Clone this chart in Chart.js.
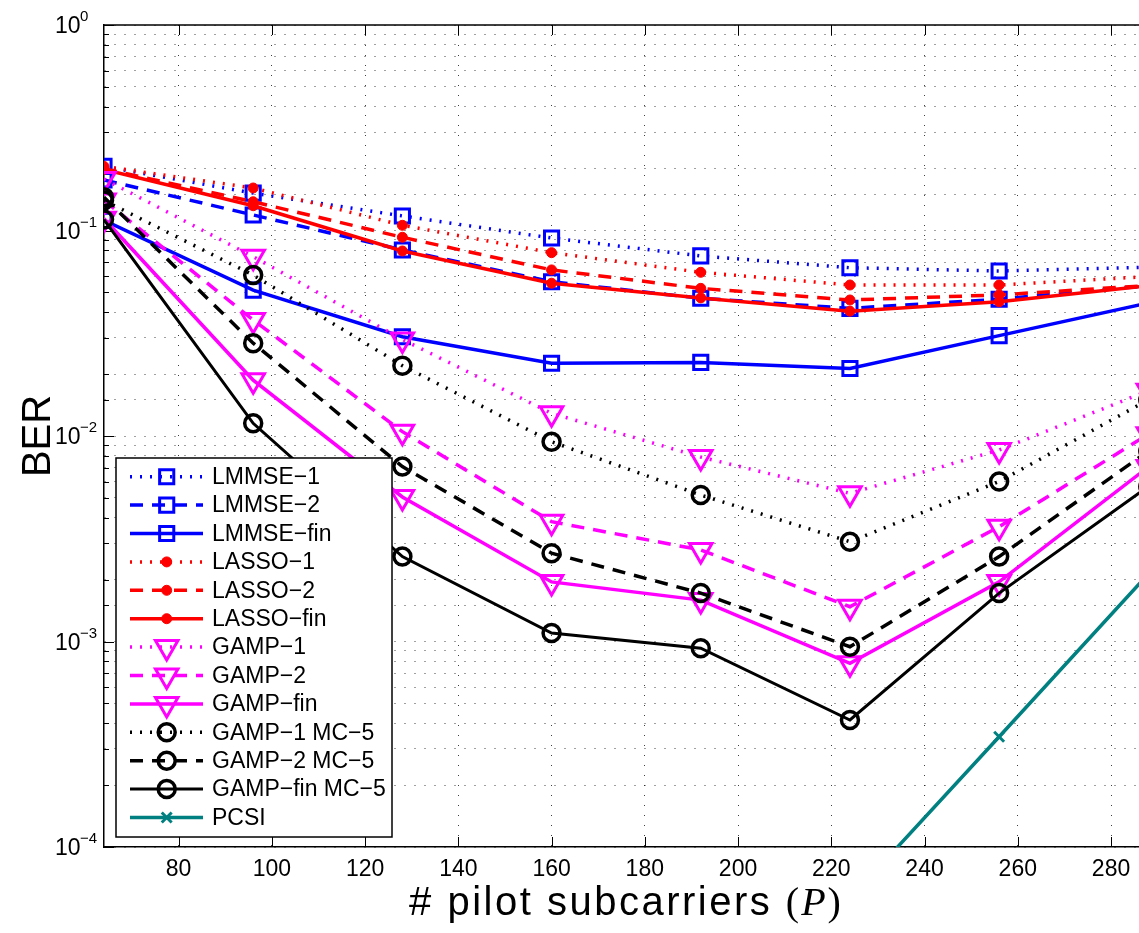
<!DOCTYPE html>
<html>
<head>
<meta charset="utf-8">
<script src="https://cdn.jsdelivr.net/npm/chart.js@4.4.1/dist/chart.umd.min.js"></script>
<style>
  html, body { margin: 0; background: #fff; overflow: hidden; }
  #wrap { width: 1139px; height: 933px; position: relative; }
  canvas { display: block; }
</style>
</head>
<body>
<div id="wrap"><canvas id="c"></canvas></div>
<script>
// BER vs number of pilot subcarriers
const pilots = [64, 96, 128, 160, 192, 224, 256, 288];

const lmmse1   = [0.205, 0.152, 0.1177, 0.0919, 0.0752, 0.0659, 0.0635, 0.0663];
const lmmse2   = [0.176, 0.119, 0.0804, 0.0563, 0.0468, 0.0418, 0.0463, 0.0539];
const lmmseFin = [0.112, 0.0513, 0.0304, 0.0226, 0.0228, 0.0213, 0.0308, 0.0444];
const lasso1   = [0.205, 0.161, 0.106, 0.078, 0.0626, 0.0543, 0.0543, 0.0597];
const lasso2   = [0.200, 0.138, 0.0927, 0.0643, 0.0523, 0.0459, 0.0486, 0.054];
const lassoFin = [0.198, 0.132, 0.0795, 0.0554, 0.047, 0.0405, 0.045, 0.0539];
const gamp1    = [0.178, 0.0746, 0.0295, 0.0129, 0.0079, 0.00526, 0.00855, 0.0166];
const gamp2    = [0.140, 0.0367, 0.0105, 0.00383, 0.00279, 0.001476, 0.00362, 0.0102];
const gampFin  = [0.114, 0.0187, 0.00505, 0.00195, 0.00159, 0.000783, 0.00195, 0.00707];
const gamp1Mc  = [0.140, 0.0607, 0.022, 0.00938, 0.00516, 0.00306, 0.0060, 0.015];
const gamp2Mc  = [0.145, 0.0283, 0.0071, 0.00269, 0.00172, 0.000943, 0.00259, 0.00845];
const gampFinMc= [0.113, 0.01153, 0.00259, 0.0011, 0.000927, 0.000415, 0.00172, 0.00568];
const pcsi     = [null, null, null, null, null, 5.6e-5, 0.000344, 0.00213];

const xTicks = [80, 100, 120, 140, 160, 180, 200, 220, 240, 260, 280];
const yDecades = [1e-4, 1e-3, 1e-2, 1e-1, 1];
const yExponents = ["\u22124", "\u22123", "\u22122", "\u22121", "0"];

const FONT = '"Liberation Sans", Arial, sans-serif';
const DOT = [2, 8], DASH = [13, 9];

// one line series, MATLAB style
function series(label, data, color, dash, marker, extra){
  const pts = pilots.map((p, i) => ({x: p, y: data[i]}));
  return Object.assign({
    label, data: pts,
    borderColor: color, borderWidth: 3.5, borderDash: dash,
    pointStyle: marker.style, pointRadius: marker.r, pointRotation: marker.rot || 0,
    pointBorderColor: color, pointBorderWidth: marker.bw,
    pointBackgroundColor: marker.fill ? color : 'rgba(0,0,0,0)',
    spanGaps: false
  }, extra || {});
}
const SQ  = {style: 'rect', r: 10, bw: 3};
const DOTM= {style: 'circle', r: 5, bw: 1, fill: true};
const TRI = {style: 'triangle', r: 13, rot: 180, bw: 3};
const CIR = {style: 'circle', r: 8.5, bw: 3.5};
const XM  = {style: 'crossRot', r: 7, bw: 3};

const datasets = [
  series('LMMSE\u22121', lmmse1, '#0000ff', DOT, SQ),
  series('LMMSE\u22122', lmmse2, '#0000ff', DASH, SQ),
  series('LMMSE\u2212fin', lmmseFin, '#0000ff', [], SQ),
  series('LASSO\u22121', lasso1, '#ff0000', DOT, DOTM),
  series('LASSO\u22122', lasso2, '#ff0000', DASH, DOTM),
  series('LASSO\u2212fin', lassoFin, '#ff0000', [], DOTM),
  series('GAMP\u22121', gamp1, '#ff00ff', DOT, TRI),
  series('GAMP\u22122', gamp2, '#ff00ff', DASH, TRI),
  series('GAMP\u2212fin', gampFin, '#ff00ff', [], TRI),
  series('GAMP\u22121 MC\u22125', gamp1Mc, '#000000', DOT, CIR),
  series('GAMP\u22122 MC\u22125', gamp2Mc, '#000000', DASH, CIR),
  series('GAMP\u2212fin MC\u22125', gampFinMc, '#000000', [], CIR, {borderWidth: 3}),
  series('PCSI', pcsi, '#008080', [], XM, {clip: 0})
];
// MATLAB draws later curves on top
datasets.forEach((d, i) => { d.order = -i; });

function isDecade(v){ const l = Math.log10(v); return Math.abs(l - Math.round(l)) < 1e-9; }

// inward ticks, top frame, y labels, axis titles and legend box
const matlabAxes = {
  id: 'matlabAxes',
  beforeDatasetsDraw(chart){
    const {ctx, chartArea: a, scales: {x, y}} = chart;
    ctx.save();
    ctx.strokeStyle = '#000'; ctx.lineWidth = 1; ctx.setLineDash([]);
    ctx.beginPath();
    x.ticks.forEach(t => {
      const px = Math.round(x.getPixelForValue(t.value)) + 0.5;
      ctx.moveTo(px, a.bottom); ctx.lineTo(px, a.bottom - 10);
      ctx.moveTo(px, a.top); ctx.lineTo(px, a.top + 10);
    });
    y.ticks.forEach(t => {
      const py = Math.round(y.getPixelForValue(t.value)) + 0.5;
      const len = isDecade(t.value) ? 10 : 5;
      ctx.moveTo(a.left, py); ctx.lineTo(a.left + len, py);
    });
    ctx.stroke();
    ctx.lineWidth = 1.5;
    ctx.beginPath(); ctx.moveTo(a.left, a.top); ctx.lineTo(a.right, a.top); ctx.stroke();
    ctx.restore();
  },
  afterDraw(chart){
    const {ctx, chartArea: a, scales: {y}} = chart;
    ctx.save();
    ctx.fillStyle = '#000';
    // y tick labels 10^n
    yDecades.forEach((v, i) => {
      const py = y.getPixelForValue(v);
      ctx.font = `23px ${FONT}`; ctx.textAlign = 'left'; ctx.textBaseline = 'alphabetic';
      ctx.fillText('10', 55, py + 8);
      ctx.font = `15px ${FONT}`;
      ctx.fillText(yExponents[i], 80, py - 4);
    });
    // axis titles
    ctx.font = `40px ${FONT}`;
    ctx.save();
    ctx.translate(50, (a.top + a.bottom) / 2);
    ctx.rotate(-Math.PI / 2);
    ctx.textAlign = 'center'; ctx.textBaseline = 'alphabetic';
    ctx.fillText('BER', 0, 0);
    ctx.restore();
    const p1 = '# pilot subcarriers ';
    const serif = '"Liberation Serif", "Times New Roman", serif';
    ctx.letterSpacing = '2.5px';
    ctx.font = `40px ${FONT}`; const w1 = ctx.measureText(p1).width;
    ctx.letterSpacing = '0px';
    ctx.font = `40px ${serif}`; const wp = ctx.measureText('(').width, wc = ctx.measureText(')').width;
    ctx.font = `italic 40px ${serif}`; const wP = ctx.measureText('P').width;
    let tx = 625 - (w1 + wp + wP + wc + 4) / 2; const ty = 915;
    ctx.textAlign = 'left';
    ctx.letterSpacing = '2.5px';
    ctx.font = `40px ${FONT}`; ctx.fillText(p1, tx, ty); tx += w1;
    ctx.letterSpacing = '0px';
    ctx.font = `40px ${serif}`; ctx.fillText('(', tx, ty); tx += wp + 2;
    ctx.font = `italic 40px ${serif}`; ctx.fillText('P', tx, ty); tx += wP + 2;
    ctx.font = `40px ${serif}`; ctx.fillText(')', tx, ty);

    // legend
    const L = 116, T = 458, R = 392, B = 837, row0 = 476.7, step = 28.4;
    ctx.fillStyle = '#fff'; ctx.fillRect(L, T, R - L, B - T);
    ctx.strokeStyle = '#000'; ctx.lineWidth = 1.5; ctx.strokeRect(L, T, R - L, B - T);
    chart.data.datasets.forEach((d, i) => {
      const ry = row0 + i * step;
      ctx.save();
      ctx.strokeStyle = d.borderColor; ctx.lineWidth = d.borderWidth; ctx.setLineDash(d.borderDash);
      ctx.beginPath(); ctx.moveTo(130, ry); ctx.lineTo(203, ry); ctx.stroke();
      ctx.setLineDash([]);
      ctx.strokeStyle = d.pointBorderColor; ctx.fillStyle = d.pointBackgroundColor;
      ctx.lineWidth = d.pointBorderWidth;
      Chart.helpers.drawPoint(ctx, {pointStyle: d.pointStyle, radius: d.pointRadius,
        rotation: d.pointRotation, borderWidth: d.pointBorderWidth}, 166.7, ry);
      ctx.restore();
      ctx.fillStyle = '#000'; ctx.font = `23px ${FONT}`;
      ctx.textAlign = 'left'; ctx.textBaseline = 'middle';
      ctx.fillText(d.label, 212, ry + 1);
    });
    ctx.restore();
  }
};

const gridOpts = {color: 'rgba(0,0,0,0.75)', lineWidth: 1, drawTicks: false, tickLength: 0};
const borderOpts = {display: true, color: '#000', width: 1.5, dash: [1, 9]};

new Chart(document.getElementById('c'), {
  type: 'line',
  data: {datasets},
  options: {
    responsive: true, maintainAspectRatio: false, animation: false,
    layout: {autoPadding: false, padding: {top: 25, left: 0, right: 0, bottom: 0}},
    plugins: {legend: {display: false}, tooltip: {enabled: false}},
    elements: {line: {tension: 0}},
    scales: {
      x: {
        type: 'linear', min: 64, max: 286,
        afterBuildTicks: s => { s.ticks = xTicks.map(v => ({value: v})); },
        afterFit: s => { s.height = 86; s.paddingLeft = 0; s.paddingRight = 0; },
        grid: gridOpts, border: borderOpts,
        ticks: {font: {family: FONT, size: 23}, color: '#000', padding: 9, maxRotation: 0, autoSkip: false}
      },
      y: {
        type: 'logarithmic', min: 1e-4, max: 1,
        afterFit: s => { s.width = 104; s.paddingTop = 0; s.paddingBottom = 0; },
        grid: gridOpts, border: borderOpts,
        ticks: {display: false}
      }
    }
  },
  plugins: [matlabAxes]
});
</script>
</body>
</html>
